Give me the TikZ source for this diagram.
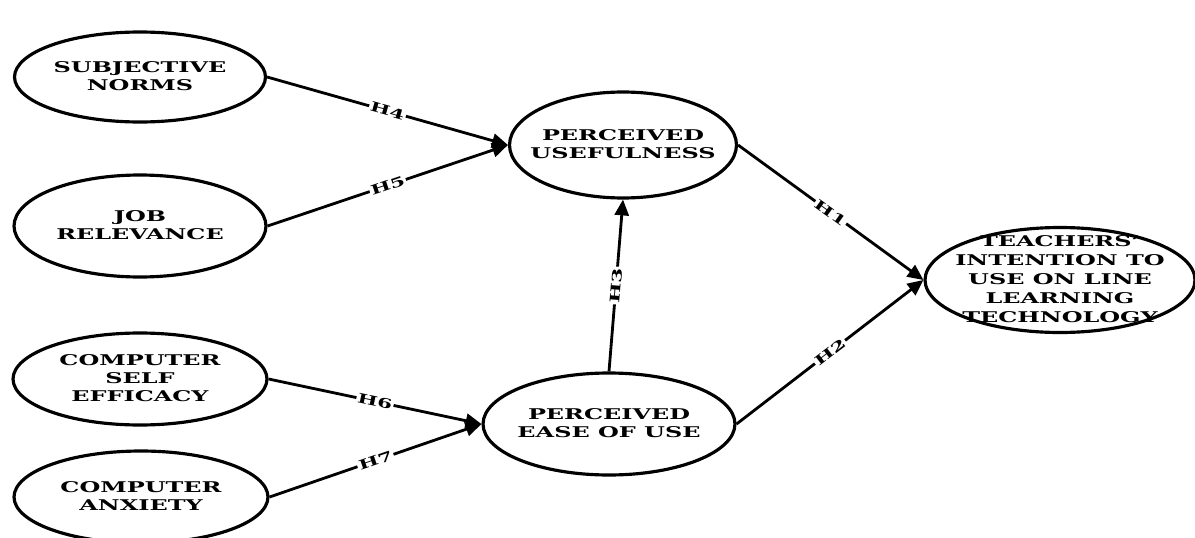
\documentclass[tikz,border=0pt]{standalone}
\usepackage{fontspec}
\setmainfont{DejaVu Serif}[FakeStretch=1.62]
\usetikzlibrary{positioning}
\usetikzlibrary{shapes.geometric}
\usetikzlibrary{arrows.meta}
\newcommand{\boxtext}[1]{\raisebox{-2.6pt}[0pt][0pt]{\makebox[0pt]{\begin{tabular}{@{}c@{}}#1\end{tabular}}}}
\tikzset{construct/.style={ellipse,draw,line width=1.8pt,inner sep=0pt,
    font=\bfseries\fontsize{8.4}{10.2}\selectfont},
  hyp/.style={-{Triangle[length=9pt,width=8pt]},line width=1.6pt},
  hlabel/.style={sloped,fill=white,inner sep=0.8pt,font=\bfseries\fontsize{7.5}{8}\selectfont}}

\begin{document}
\begin{tikzpicture}[x=0.02cm,y=-0.02cm]
	\useasboundingbox (0,0) rectangle (1195,537);
	\node[construct,minimum width=5.02cm,minimum height=1.8cm] at (140,77) (SN) {\boxtext{SUBJECTIVE\\NORMS}};
	\node[construct,minimum width=5.04cm,minimum height=2.04cm] at (140,226) (JR) {\boxtext{JOB\\RELEVANCE}};
	\node[construct,minimum width=5.08cm,minimum height=1.84cm] at (140,379) (CSE) {\boxtext{COMPUTER\\SELF\\EFFICACY}};
	\node[construct,minimum width=5.08cm,minimum height=1.84cm] at (141,497) (CA) {\boxtext{COMPUTER\\ANXIETY}};
	\node[construct,minimum width=4.54cm,minimum height=2.12cm] at (623,145) (PU) {\boxtext{PERCEIVED\\USEFULNESS}};
	\node[construct,minimum width=5.04cm,minimum height=2.04cm] at (609,424) (PEOU) {\boxtext{PERCEIVED\\EASE OF USE}};
	\node[construct,minimum width=5.4cm,minimum height=2.1cm] at (1060,280) (TI) {\boxtext{TEACHERS’\\[0.6pt]INTENTION TO\\[0.6pt]USE ON LINE\\[0.6pt]LEARNING\\[0.6pt]TECHNOLOGY}};
	
	\draw[hyp] (SN.east) -- node[hlabel] {H4} (PU.west);
	\draw[hyp] (JR.east) -- node[hlabel] {H5} (PU.west);
	\draw[hyp] (CSE.east) -- node[hlabel] {H6} (PEOU.west);
	\draw[hyp] (CA.east) -- node[hlabel] {H7} (PEOU.west);
	\draw[hyp] (PEOU.north) -- node[hlabel] {H3} (PU.south);
	\draw[hyp] (PU.east) -- node[hlabel] {H1} (TI.west);
	\draw[hyp] (PEOU.east) -- node[hlabel] {H2} (TI.west);
\end{tikzpicture}
\end{document}
